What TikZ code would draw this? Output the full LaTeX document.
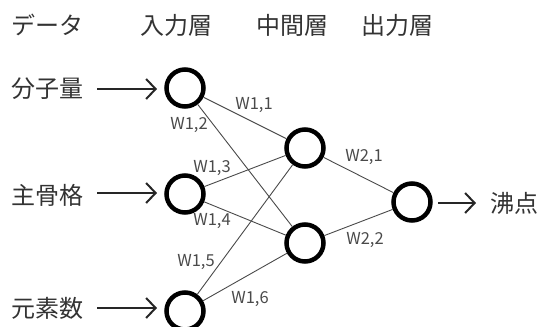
\documentclass[tikz,border=0pt]{standalone}
\usepackage{fontspec}
\setmainfont{Noto Sans CJK JP}
\usetikzlibrary{arrows.meta}
\definecolor{txt}{HTML}{333333}
\definecolor{edgec}{HTML}{4A4A4A}
\begin{document}
\begin{tikzpicture}[x=1pt,y=-1pt,
  neuron/.style={circle,draw=black,line width=4.5pt,minimum size=37pt,inner sep=0pt},
  big/.style={font=\fontsize{24}{24}\selectfont,text=txt,inner sep=0pt},
  wlab/.style={font=\fontsize{16.5}{16.5}\selectfont,text=edgec,inner sep=0pt},
  conn/.style={draw=edgec,line width=0.9pt},
  inarrow/.style={draw=black!85,line width=2pt,-{Straight Barb[length=9.5pt,width=20pt,line width=2pt]}}
]
\useasboundingbox (0,0) rectangle (542,327);
% headers
\node[big] (h0) at (48,25) {データ};
\node[big] (h1) at (176,25) {入力層};
\node[big] (h2) at (292,25) {中間層};
\node[big] (h3) at (397,25) {出力層};
% neurons
\node[neuron] (i1) at (185,88) {};
\node[neuron] (i2) at (185,194) {};
\node[neuron] (i3) at (185,311) {};
\node[neuron] (m1) at (305,148) {};
\node[neuron] (m2) at (305,243) {};
\node[neuron] (o1) at (412,202) {};
% data labels
\node[big] (d1) at (48,89) {分子量};
\node[big] (d2) at (48,195) {主骨格};
\node[big] (d3) at (48,308) {元素数};
\node[big] (out) at (514,203) {沸点};
% input arrows
\coordinate (a1s) at (97,89);  \coordinate (a1e) at (157,89);
\coordinate (a2s) at (97,193); \coordinate (a2e) at (157,193);
\coordinate (a3s) at (97,308); \coordinate (a3e) at (157,308);
\coordinate (aos) at (438,203); \coordinate (aoe) at (476,203);
\draw[inarrow] (a1s) -- (a1e);
\draw[inarrow] (a2s) -- (a2e);
\draw[inarrow] (a3s) -- (a3e);
\draw[inarrow] (aos) -- (aoe);
% connections
\draw[conn] (i1) -- (m1);
\draw[conn] (i1) -- (m2);
\draw[conn] (i2) -- (m1);
\draw[conn] (i2) -- (m2);
\draw[conn] (i3) -- (m1);
\draw[conn] (i3) -- (m2);
\draw[conn] (m1) -- (o1);
\draw[conn] (m2) -- (o1);
% weight labels
\node[wlab] (w11) at (254,105) {W1,1};
\node[wlab] (w12) at (189,125) {W1,2};
\node[wlab] (w13) at (212,168) {W1,3};
\node[wlab] (w14) at (212,221) {W1,4};
\node[wlab] (w15) at (196,262) {W1,5};
\node[wlab] (w16) at (250,299) {W1,6};
\node[wlab] (w21) at (364,157) {W2,1};
\node[wlab] (w22) at (365,240) {W2,2};
\end{tikzpicture}
\end{document}
